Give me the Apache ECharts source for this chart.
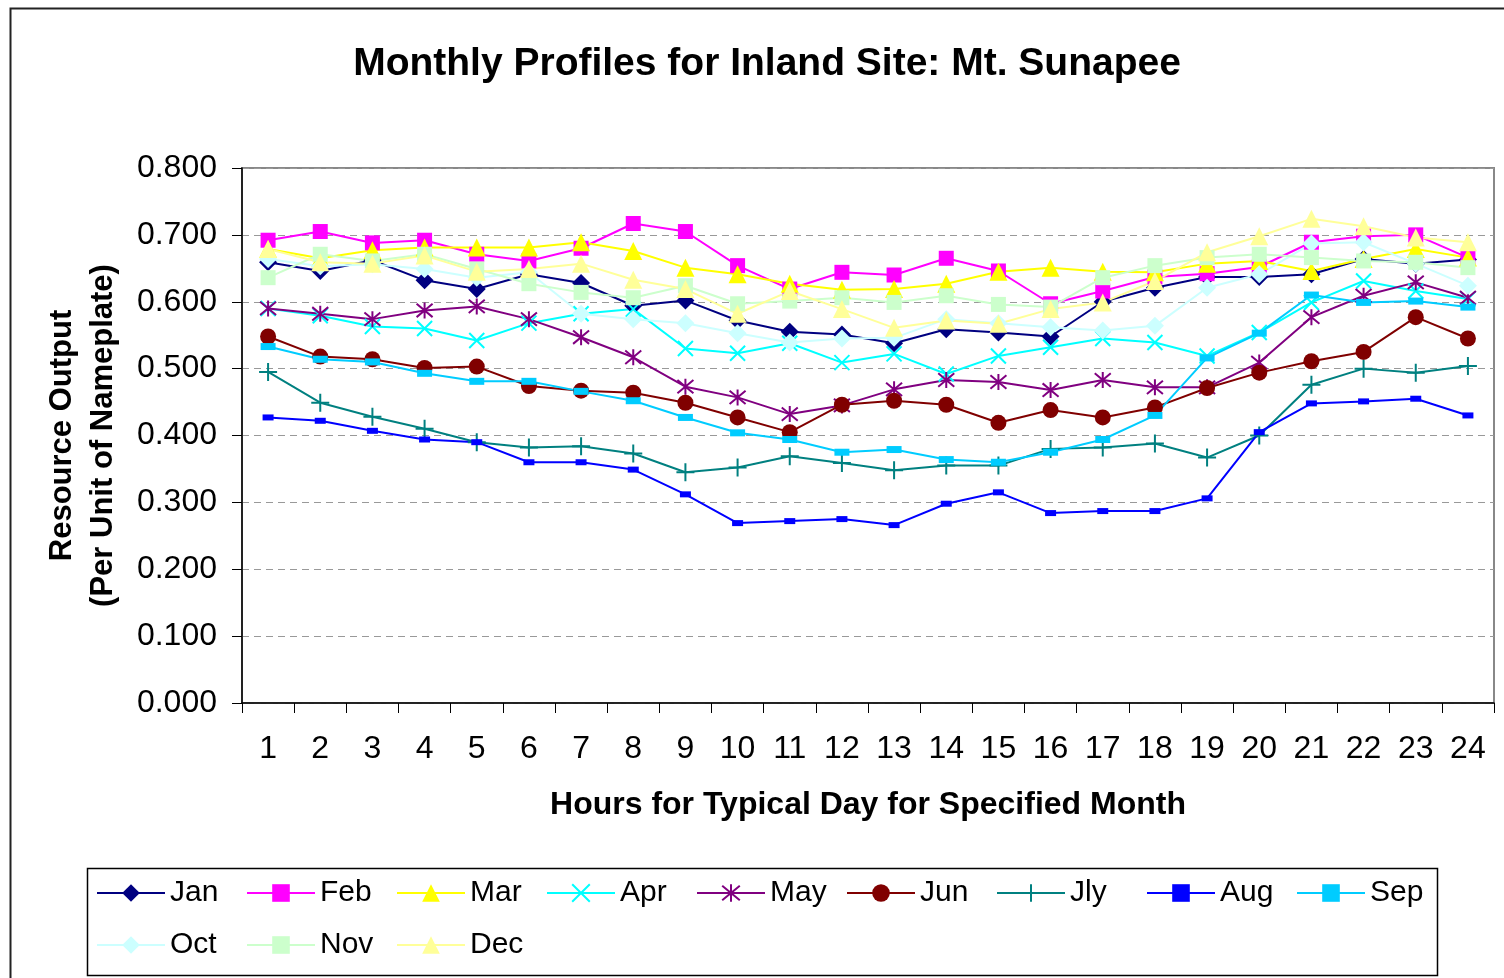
<!DOCTYPE html>
<html>
<head>
<meta charset="utf-8">
<script src="https://cdn.jsdelivr.net/npm/echarts@6/dist/echarts.min.js"></script>
<style>
  html, body { margin: 0; padding: 0; background: #fff; }
  #chart { width: 1504px; height: 978px; }
</style>
</head>
<body>
<div id="chart"></div>
<script>
const hours = ["1","2","3","4","5","6","7","8","9","10","11","12","13","14","15","16","17","18","19","20","21","22","23","24"];
const yTicks = [0, 0.1, 0.2, 0.3, 0.4, 0.5, 0.6, 0.7, 0.8];

const jan = [0.659, 0.646, 0.662, 0.632, 0.619, 0.641, 0.628, 0.594, 0.602, 0.572, 0.555, 0.551, 0.538, 0.559, 0.554, 0.548, 0.600, 0.621, 0.637, 0.637, 0.641, 0.664, 0.657, 0.663];
const feb = [0.692, 0.705, 0.688, 0.692, 0.671, 0.661, 0.680, 0.717, 0.705, 0.654, 0.619, 0.644, 0.640, 0.665, 0.646, 0.597, 0.616, 0.637, 0.642, 0.652, 0.689, 0.698, 0.700, 0.666];
const mar = [0.679, 0.665, 0.677, 0.681, 0.681, 0.681, 0.689, 0.676, 0.651, 0.641, 0.627, 0.618, 0.619, 0.627, 0.645, 0.651, 0.645, 0.644, 0.657, 0.661, 0.646, 0.664, 0.679, 0.666];
const apr = [0.590, 0.579, 0.563, 0.560, 0.542, 0.568, 0.582, 0.589, 0.530, 0.523, 0.538, 0.509, 0.522, 0.492, 0.519, 0.532, 0.545, 0.539, 0.519, 0.554, 0.599, 0.631, 0.616, 0.604];
const may = [0.590, 0.582, 0.574, 0.587, 0.593, 0.574, 0.547, 0.517, 0.473, 0.457, 0.432, 0.445, 0.469, 0.483, 0.480, 0.468, 0.483, 0.472, 0.472, 0.509, 0.577, 0.609, 0.629, 0.606];
const jun = [0.548, 0.518, 0.514, 0.501, 0.503, 0.474, 0.467, 0.464, 0.449, 0.427, 0.405, 0.446, 0.452, 0.446, 0.419, 0.438, 0.427, 0.442, 0.471, 0.494, 0.511, 0.525, 0.577, 0.545];
const jly = [0.495, 0.449, 0.428, 0.410, 0.390, 0.382, 0.384, 0.373, 0.345, 0.352, 0.369, 0.359, 0.348, 0.355, 0.355, 0.380, 0.382, 0.388, 0.367, 0.400, 0.476, 0.500, 0.494, 0.504];
const aug = [0.427, 0.422, 0.407, 0.394, 0.390, 0.360, 0.360, 0.349, 0.312, 0.269, 0.272, 0.275, 0.266, 0.298, 0.315, 0.284, 0.287, 0.287, 0.306, 0.405, 0.448, 0.451, 0.455, 0.430];
const sep = [0.533, 0.514, 0.510, 0.493, 0.481, 0.481, 0.466, 0.452, 0.427, 0.404, 0.394, 0.375, 0.379, 0.364, 0.360, 0.375, 0.394, 0.430, 0.516, 0.553, 0.610, 0.599, 0.601, 0.592];
const oct = [0.664, 0.653, 0.656, 0.649, 0.636, 0.644, 0.582, 0.574, 0.568, 0.553, 0.539, 0.545, 0.546, 0.574, 0.568, 0.562, 0.557, 0.564, 0.621, 0.641, 0.687, 0.689, 0.657, 0.624];
const nov = [0.636, 0.671, 0.661, 0.671, 0.649, 0.627, 0.614, 0.606, 0.624, 0.597, 0.601, 0.606, 0.599, 0.609, 0.596, 0.592, 0.636, 0.654, 0.666, 0.671, 0.666, 0.661, 0.659, 0.651];
const dec = [0.679, 0.659, 0.657, 0.669, 0.645, 0.649, 0.657, 0.633, 0.619, 0.582, 0.616, 0.589, 0.561, 0.572, 0.567, 0.589, 0.599, 0.631, 0.674, 0.698, 0.724, 0.713, 0.696, 0.689];

const FONT = "Liberation Sans, Arial, sans-serif";
const X_PATH = "path://M0,0L10,10M10,0L0,10";
const STAR_PATH = "path://M0,0L10,10M10,0L0,10M5,-1L5,11";
const PLUS_PATH = "path://M5,0L5,10M0,5L10,5";

function makeLine(name, data, color, symbol, size, stroke) {
  return {
    name: name,
    type: "line",
    data: data,
    symbol: symbol,
    symbolSize: size,
    showAllSymbol: true,
    lineStyle: { color: color, width: 2 },
    itemStyle: stroke
      ? { color: color, borderColor: color, borderWidth: 2 }
      : { color: color, borderWidth: 0 },
    emphasis: { disabled: true },
    animation: false
  };
}

const chart = echarts.init(document.getElementById("chart"));
const option = {
  backgroundColor: "#fff",
  textStyle: { fontFamily: FONT },
  title: {
    text: "Monthly Profiles for Inland Site: Mt. Sunapee",
    left: 762,
    textAlign: "center",
    top: 40,
    textStyle: { fontSize: 39, fontWeight: "bold", color: "#000", fontFamily: FONT }
  },
  grid: {
    left: 242,
    top: 168,
    right: 10,
    bottom: 275,
    containLabel: false,
    outerBoundsMode: "none",
    show: true,
    borderColor: "#888",
    borderWidth: 2
  },
  legend: {
    left: 96,
    top: 870,
    width: 1400,
    itemWidth: 68,
    itemHeight: 22,
    itemGap: 6,
    padding: 0,
    textStyle: { fontSize: 30, color: "#000", fontFamily: FONT, width: 70, lineHeight: 46 },
    data: ["Jan","Feb","Mar","Apr","May","Jun","Jly","Aug","Sep","Oct","Nov","Dec"]
  },
  xAxis: {
    type: "category",
    data: hours,
    boundaryGap: true,
    name: "Hours for Typical Day for Specified Month",
    nameLocation: "middle",
    nameGap: 86,
    nameTextStyle: { fontSize: 32, fontWeight: "bold", color: "#000", fontFamily: FONT },
    axisLine: { lineStyle: { color: "#000", width: 1.5 } },
    axisTick: { show: true, length: 10, lineStyle: { color: "#000" } },
    axisLabel: { fontSize: 32, color: "#000", margin: 30, interval: 0, fontFamily: FONT },
    splitLine: { show: false }
  },
  yAxis: {
    type: "value",
    min: yTicks[0],
    max: yTicks[yTicks.length - 1],
    interval: 0.1,
    name: "Resource Output\n(Per Unit of Nameplate)",
    nameLocation: "middle",
    nameGap: 118,
    nameTextStyle: { fontSize: 31, fontWeight: "bold", color: "#000", lineHeight: 41, fontFamily: FONT },
    axisLine: { show: true, lineStyle: { color: "#000", width: 1.5 } },
    axisTick: { show: true, length: 10, lineStyle: { color: "#000" } },
    axisLabel: {
      fontSize: 32, color: "#000", margin: 25, fontFamily: FONT,
      formatter: function (v) { return v.toFixed(3); }
    },
    splitLine: { show: true, lineStyle: { color: "#999", width: 1, type: [7, 5] } }
  },
  graphic: [
    {
      type: "rect",
      left: 8, top: 6,
      shape: { width: 1520, height: 1000 },
      style: { fill: "none", stroke: "#222", lineWidth: 2 },
      silent: true, z: -10
    },
    {
      type: "rect",
      left: 85, top: 866,
      shape: { width: 1350, height: 107 },
      style: { fill: "none", stroke: "#000", lineWidth: 1.5 },
      silent: true
    }
  ],
  series: [
    makeLine("Jan", jan, "#000080", "diamond", 18, false),
    makeLine("Feb", feb, "#FF00FF", "rect", 15, false),
    makeLine("Mar", mar, "#FFFF00", "triangle", 18, false),
    makeLine("Apr", apr, "#00FFFF", X_PATH, 15, true),
    makeLine("May", may, "#800080", STAR_PATH, 16, true),
    makeLine("Jun", jun, "#800000", "circle", 16, false),
    makeLine("Jly", jly, "#008080", PLUS_PATH, 18, true),
    makeLine("Aug", aug, "#0000FF", "rect", [11, 6], false),
    makeLine("Sep", sep, "#00CCFF", "rect", [15, 7], false),
    makeLine("Oct", oct, "#CCFFFF", "diamond", 18, false),
    makeLine("Nov", nov, "#CCFFCC", "rect", 15, false),
    makeLine("Dec", dec, "#FFFF99", "triangle", 18, false)
  ]
};
chart.setOption(option);
window.addEventListener("resize", () => chart.resize(), false);
</script>
</body>
</html>
